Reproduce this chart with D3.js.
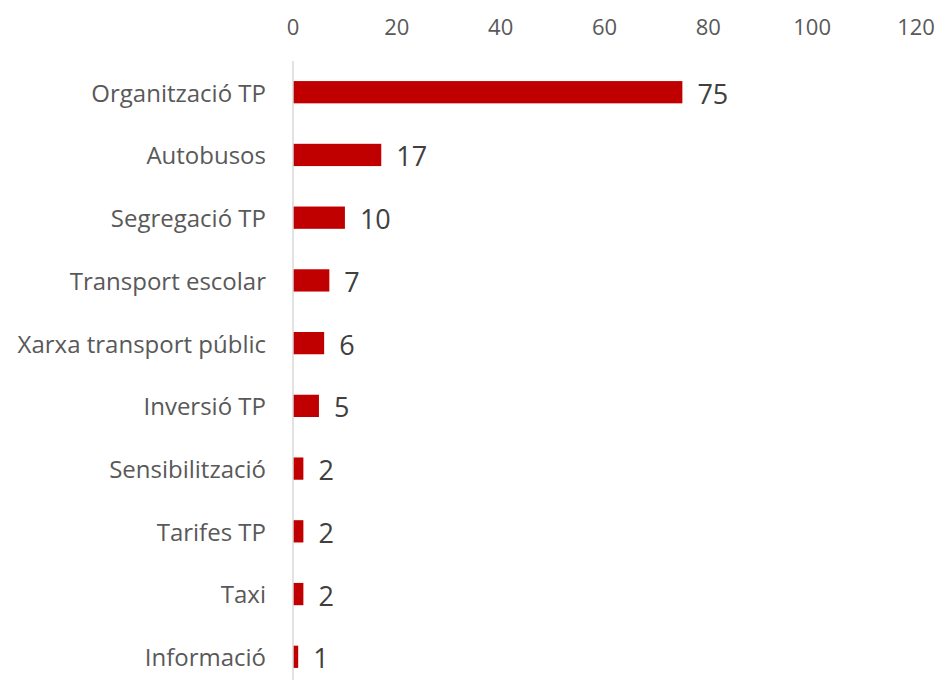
<!DOCTYPE html>
<html>
<head>
<meta charset="utf-8">
<script src="https://cdn.jsdelivr.net/npm/d3@7"></script>
<style>
  body { margin: 0; background: #fff; }
  text { font-family: "Open Sans", Lato, sans-serif; }
</style>
</head>
<body>
<div id="chart"></div>
<script>
const categories = [
  "Organització TP", "Autobusos", "Segregació TP", "Transport escolar",
  "Xarxa transport públic", "Inversió TP", "Sensibilització", "Tarifes TP",
  "Taxi", "Informació"
];
const values = [75, 17, 10, 7, 6, 5, 2, 2, 2, 1];
const xTicks = [0, 20, 40, 60, 80, 100, 120];

const width = 940, height = 680;
const margin = { top: 61, left: 293, right: 24 };

const svg = d3.select("#chart").append("svg")
  .attr("width", width)
  .attr("height", height);

const x = d3.scaleLinear()
  .domain([0, 120])
  .range([margin.left, width - margin.right]);

const y = d3.scaleBand()
  .domain(categories)
  .range([margin.top, margin.top + 62.7 * categories.length])
  .paddingInner(0.645)
  .paddingOuter(0.32);

// top tick labels
svg.append("g")
  .selectAll("text")
  .data(xTicks)
  .join("text")
  .attr("x", d => x(d))
  .attr("y", 35)
  .attr("text-anchor", "middle")
  .attr("fill", "#595959")
  .style("font-size", "22px")
  .text(d => d);

// bars
svg.append("g")
  .selectAll("rect")
  .data(values)
  .join("rect")
  .attr("x", x(0))
  .attr("y", (d, i) => y(categories[i]))
  .attr("width", d => x(d) - x(0))
  .attr("height", y.bandwidth())
  .attr("fill", "#C00000");

// vertical axis line
svg.append("line")
  .attr("x1", x(0))
  .attr("x2", x(0))
  .attr("y1", margin.top)
  .attr("y2", height)
  .attr("stroke", "#d9d9d9")
  .attr("stroke-width", 1.5);

// category labels
svg.append("g")
  .selectAll("text")
  .data(categories)
  .join("text")
  .attr("x", x(0) - 27)
  .attr("y", d => y(d) + y.bandwidth() / 2 + 1)
  .attr("dy", "0.35em")
  .attr("text-anchor", "end")
  .attr("fill", "#595959")
  .style("font-size", "24px")
  .text(d => d);

// value labels
svg.append("g")
  .selectAll("text")
  .data(values)
  .join("text")
  .attr("x", d => x(d) + 15)
  .attr("y", (d, i) => y(categories[i]) + y.bandwidth() / 2 + 2)
  .attr("dy", "0.35em")
  .attr("fill", "#404040")
  .style("font-size", "27px")
  .text(d => d);
</script>
</body>
</html>
